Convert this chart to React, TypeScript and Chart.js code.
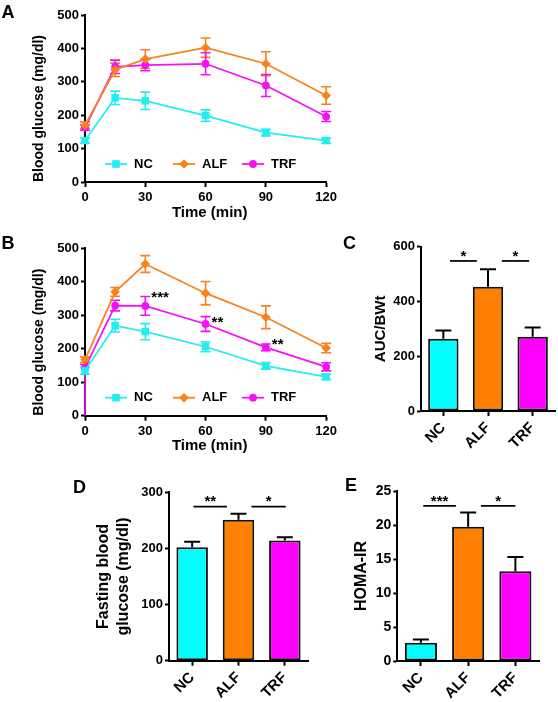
import React, { useEffect, useRef } from 'react';
import { Chart, registerables } from 'chart.js';

Chart.register(...registerables);

const FONT = "'Liberation Sans', Arial, Helvetica, sans-serif";
Chart.defaults.font.family = FONT;
Chart.defaults.font.weight = 'bold';
Chart.defaults.color = '#000';

// ---------- data ----------
const TIMES = [0, 15, 30, 60, 90, 120];

const A_NC = [124, 252, 243, 199, 148, 124];
const A_NC_ERR = [8, 20, 26, 17, 10, 8];
const A_ALF = [170, 336, 368, 402, 354, 259];
const A_ALF_ERR = [10, 20, 28, 29, 36, 26];
const A_TRF = [163, 345, 350, 354, 289, 196];
const A_TRF_ERR = [8, 20, 17, 33, 33, 15];

const B_NC = [134, 269, 251, 206, 149, 116];
const B_NC_ERR = [10, 19, 24, 15, 10, 8];
const B_ALF = [167, 370, 453, 366, 294, 202];
const B_ALF_ERR = [8, 13, 25, 35, 34, 14];
const B_TRF = [143, 329, 328, 274, 204, 146];
const B_TRF_ERR = [10, 16, 28, 22, 10, 12];
const B_TRF_ERR_LOW = [143, 16, 28, 22, 10, 12];
const B_STAR_TIMES = [30, 60, 90];
const B_STAR_VALUES = [366, 291, 224];
const B_STAR_LABELS = ['***', '**', '**'];

const GROUPS = ['NC', 'ALF', 'TRF'];
const SERIES_NAMES = ['NC', 'ALF', 'TRF'];

const C_VALUES = [264, 454, 271];
const C_ERR = [30, 64, 34];
const C_SIG_FROM = [0.15, 1.31];
const C_SIG_TO = [0.75, 1.92];
const C_SIG_Y = [548, 548];
const C_SIG_LABELS = ['*', '*'];

const D_VALUES = [202, 251, 214];
const D_ERR = [10, 11, 6];
const D_SIG_FROM = [0.03, 1.28];
const D_SIG_TO = [0.75, 2.02];
const D_SIG_Y = [274.5, 274.5];
const D_SIG_LABELS = ['**', '*'];

const E_VALUES = [2.7, 19.75, 13.2];
const E_ERR = [0.45, 2.1, 2.1];
const E_SIG_FROM = [0.05, 1.27];
const E_SIG_TO = [0.74, 2.0];
const E_SIG_Y = [22.8, 22.8];
const E_SIG_LABELS = ['***', '*'];

// ---------- styles ----------
const CYAN = '#00FFFF';
const ORANGE = '#FF8000';
const MAGENTA = '#FF00FF';
const LINE_CYAN = '#22EEF0';
const LINE_ORANGE = '#F9821A';
const LINE_MAGENTA = '#F510F5';

function drawMarker(ctx: CanvasRenderingContext2D, style: string, x: number, y: number, color: string) {
  ctx.save();
  ctx.fillStyle = color;
  ctx.beginPath();
  if (style === 'rect') {
    ctx.rect(x - 3.8, y - 3.8, 7.6, 7.6);
  } else if (style === 'rectRot') {
    ctx.moveTo(x, y - 4.8);
    ctx.lineTo(x + 4.8, y);
    ctx.lineTo(x, y + 4.8);
    ctx.lineTo(x - 4.8, y);
    ctx.closePath();
  } else {
    ctx.arc(x, y, 3.9, 0, Math.PI * 2);
  }
  ctx.fill();
  ctx.restore();
}

function drawErrors(chart: any, isLine: boolean) {
  const ctx = chart.ctx;
  const ys = chart.scales.y;
  chart.data.datasets.forEach((ds: any, i: number) => {
    const hi = ds.errHigh;
    if (!hi) return;
    const lo = ds.errLow || hi;
    const meta = chart.getDatasetMeta(i);
    meta.data.forEach((el: any, j: number) => {
      const raw = ds.data[j];
      const val = typeof raw === 'number' ? raw : raw.y;
      const x = el.x;
      const yTop = ys.getPixelForValue(val + hi[j]);
      const yBot = isLine ? ys.getPixelForValue(val - lo[j]) : el.y;
      const cap = isLine ? 5 : 8;
      ctx.save();
      ctx.strokeStyle = isLine ? ds.borderColor : '#000';
      ctx.lineWidth = isLine ? 1.6 : 2;
      ctx.beginPath();
      ctx.moveTo(x, yTop);
      ctx.lineTo(x, yBot);
      ctx.moveTo(x - cap, yTop);
      ctx.lineTo(x + cap, yTop);
      if (isLine && lo[j] < val) {
        ctx.moveTo(x - cap, yBot);
        ctx.lineTo(x + cap, yBot);
      }
      ctx.stroke();
      ctx.restore();
    });
  });
}

const errorBarPlugin = {
  id: 'errorBars',
  beforeDatasetsDraw(chart: any) {
    if (chart.config.type === 'line') drawErrors(chart, true);
  },
  afterDatasetsDraw(chart: any) {
    if (chart.config.type === 'bar') drawErrors(chart, false);
  },
};

const innerLegendPlugin = {
  id: 'innerLegend',
  afterDraw(chart: any) {
    if (chart.config.type !== 'line') return;
    const { ctx, chartArea } = chart;
    const y = chartArea.bottom - 18;
    const offs = [20, 88, 157];
    chart.data.datasets.forEach((ds: any, i: number) => {
      const x0 = chartArea.left + offs[i];
      ctx.save();
      ctx.strokeStyle = ds.borderColor;
      ctx.lineWidth = 1.75;
      ctx.beginPath();
      ctx.moveTo(x0, y);
      ctx.lineTo(x0 + 22, y);
      ctx.stroke();
      drawMarker(ctx, ds.pointStyle, x0 + 11, y, ds.borderColor);
      ctx.fillStyle = '#000';
      ctx.font = `bold 13px ${FONT}`;
      ctx.textBaseline = 'middle';
      ctx.textAlign = 'left';
      ctx.fillText(ds.label, x0 + 29, y);
      ctx.restore();
    });
  },
};

const starsPlugin = {
  id: 'stars',
  afterDatasetsDraw(chart: any, _args: any, opts: any) {
    if (!opts || !opts.times) return;
    const { ctx } = chart;
    const xs = chart.scales.x;
    const ys = chart.scales.y;
    ctx.save();
    ctx.fillStyle = '#000';
    ctx.font = `bold 15px ${FONT}`;
    ctx.textAlign = 'left';
    ctx.textBaseline = 'alphabetic';
    opts.times.forEach((t: number, i: number) => {
      ctx.fillText(opts.labels[i], xs.getPixelForValue(t) + 6, ys.getPixelForValue(opts.values[i]) + 8.7);
    });
    ctx.restore();
  },
};

const sigPlugin = {
  id: 'sig',
  afterDatasetsDraw(chart: any, _args: any, opts: any) {
    if (!opts || !opts.from) return;
    const { ctx } = chart;
    const xs = chart.scales.x;
    const ys = chart.scales.y;
    ctx.save();
    opts.from.forEach((f: number, i: number) => {
      const x1 = xs.getPixelForValue(f);
      const x2 = xs.getPixelForValue(opts.to[i]);
      const y = ys.getPixelForValue(opts.y[i]);
      ctx.strokeStyle = '#000';
      ctx.lineWidth = 1.75;
      ctx.beginPath();
      ctx.moveTo(x1, y);
      ctx.lineTo(x2, y);
      ctx.stroke();
      ctx.fillStyle = '#000';
      ctx.font = `bold 15px ${FONT}`;
      ctx.textAlign = 'center';
      ctx.textBaseline = 'alphabetic';
      ctx.fillText(opts.labels[i], (x1 + x2) / 2, y - 9 + 8.7);
    });
    ctx.restore();
  },
};

Chart.register(errorBarPlugin, innerLegendPlugin, starsPlugin, sigPlugin);

const axisGrid = {
  drawOnChartArea: false,
  drawTicks: true,
  tickLength: 5,
  tickWidth: 2,
  tickColor: '#000',
};
const axisBorder = { display: true, color: '#000', width: 2 };

function lineDataset(label: string, values: number[], err: number[], color: string, style: string, radius: number, errLow?: number[]) {
  return {
    label,
    data: TIMES.map((t, i) => ({ x: t, y: values[i] })),
    borderColor: color,
    backgroundColor: color,
    pointBackgroundColor: color,
    pointBorderColor: color,
    pointBorderWidth: 0,
    pointStyle: style,
    pointRadius: radius,
    borderWidth: 1.75,
    tension: 0,
    clip: false,
    errHigh: err,
    errLow: errLow,
  } as any;
}

function lineConfig(datasets: any[], padTop: number, xHeight: number, titleBottom: number, stars?: any) {
  return {
    type: 'line',
    data: { datasets },
    options: {
      responsive: false,
      animation: false,
      events: [],
      layout: { padding: { top: padTop, right: 13, left: 0, bottom: 0 } },
      plugins: {
        legend: { display: false },
        tooltip: { enabled: false },
        stars: stars || {},
      },
      scales: {
        x: {
          type: 'linear',
          min: 0,
          max: 120,
          ticks: { stepSize: 30, font: { size: 13, weight: 'bold' }, color: '#000', padding: 3 },
          grid: axisGrid,
          border: axisBorder,
          title: { display: true, text: '  Time (min)', font: { size: 15, weight: 'bold' }, color: '#000', padding: { top: 0, bottom: titleBottom } },
          afterFit: (s: any) => { s.height = xHeight; },
        },
        y: {
          min: 0,
          max: 500,
          ticks: { stepSize: 100, font: { size: 13, weight: 'bold' }, color: '#000', padding: 2 },
          grid: { ...axisGrid, tickLength: 4 },
          border: axisBorder,
          title: { display: true, text: 'Blood glucose (mg/dl)', align: 'start', font: { size: 14, weight: 'bold' }, color: '#000', padding: { top: 31, bottom: 0 } },
          afterFit: (s: any) => { s.width = 85; },
        },
      },
    },
  } as any;
}

function barConfig(values: number[], err: number[], yMax: number, step: number, title: any, titleSize: number, titlePad: number, tickSize: number, yWidth: number, xHeight: number, padTop: number, padRight: number, sig: any) {
  return {
    type: 'bar',
    data: {
      labels: GROUPS,
      datasets: [
        {
          data: values,
          backgroundColor: [CYAN, ORANGE, MAGENTA],
          borderColor: '#111',
          borderWidth: 2,
          borderSkipped: false,
          barPercentage: 0.68,
          categoryPercentage: 1,
          errHigh: err,
        } as any,
      ],
    },
    options: {
      responsive: false,
      animation: false,
      events: [],
      layout: { padding: { top: padTop, right: padRight, left: 0, bottom: 0 } },
      plugins: { legend: { display: false }, tooltip: { enabled: false }, sig },
      scales: {
        x: {
          type: 'category',
          offset: true,
          ticks: { font: { size: 15, weight: 'bold' }, color: '#000', maxRotation: 45, minRotation: 45, padding: 3 },
          grid: { ...axisGrid, offset: false },
          border: axisBorder,
          afterFit: (s: any) => { s.height = xHeight; },
        },
        y: {
          min: 0,
          max: yMax,
          ticks: { stepSize: step, font: { size: tickSize, weight: 'bold' }, color: '#000', padding: 2 },
          grid: { ...axisGrid, tickLength: 4 },
          border: axisBorder,
          title: { display: true, text: title, font: { size: titleSize, weight: 'bold', lineHeight: 1.25 }, color: '#000', padding: { top: titlePad, bottom: 0 } },
          afterFit: (s: any) => { s.width = yWidth; },
        },
      },
    },
  } as any;
}

function ChartBox({ left, top, width, height, make }: { left: number; top: number; width: number; height: number; make: () => any }) {
  const ref = useRef<HTMLCanvasElement>(null);
  useEffect(() => {
    const chart = new Chart(ref.current as HTMLCanvasElement, make());
    return () => chart.destroy();
  }, []);
  return <canvas ref={ref} width={width} height={height} style={{ position: 'absolute', left, top, width, height }} />;
}

function Letter({ text, left, top }: { text: string; left: number; top: number }) {
  return (
    <div style={{ position: 'absolute', left, top, font: `bold 18px ${FONT}`, lineHeight: '18px', color: '#000' }}>{text}</div>
  );
}

export default function App() {
  return (
    <div style={{ position: 'absolute', left: 0, top: 0, width: 558, height: 702, background: '#fff', overflow: 'hidden' }}>
      <ChartBox
        left={0}
        top={0}
        width={340}
        height={230}
        make={() =>
          lineConfig(
            [
              lineDataset(SERIES_NAMES[0], A_NC, A_NC_ERR, LINE_CYAN, 'rect', 5.3),
              lineDataset(SERIES_NAMES[1], A_ALF, A_ALF_ERR, LINE_ORANGE, 'rectRot', 4.8),
              lineDataset(SERIES_NAMES[2], A_TRF, A_TRF_ERR, LINE_MAGENTA, 'circle', 3.9),
            ],
            15,
            48,
            8
          )
        }
      />
      <ChartBox
        left={0}
        top={230}
        width={340}
        height={230}
        make={() =>
          lineConfig(
            [
              lineDataset(SERIES_NAMES[0], B_NC, B_NC_ERR, LINE_CYAN, 'rect', 5.3),
              lineDataset(SERIES_NAMES[1], B_ALF, B_ALF_ERR, LINE_ORANGE, 'rectRot', 4.8),
              lineDataset(SERIES_NAMES[2], B_TRF, B_TRF_ERR, LINE_MAGENTA, 'circle', 3.9, B_TRF_ERR_LOW),
            ],
            18.3,
            44.3,
            5,
            { times: B_STAR_TIMES, values: B_STAR_VALUES, labels: B_STAR_LABELS }
          )
        }
      />
      <ChartBox
        left={340}
        top={230}
        width={218}
        height={230}
        make={() =>
          barConfig(C_VALUES, C_ERR, 600, 200, 'AUC/BWt', 15, 31, 13, 81, 49, 16.7, 3, {
            from: C_SIG_FROM, to: C_SIG_TO, y: C_SIG_Y, labels: C_SIG_LABELS,
          })
        }
      />
      <ChartBox
        left={0}
        top={460}
        width={320}
        height={242}
        make={() =>
          barConfig(D_VALUES, D_ERR, 300, 100, ['Fasting blood', 'glucose (mg/dl)'], 16, 93.3, 13, 169, 41.3, 32.3, 12, {
            from: D_SIG_FROM, to: D_SIG_TO, y: D_SIG_Y, labels: D_SIG_LABELS,
          })
        }
      />
      <ChartBox
        left={300}
        top={460}
        width={258}
        height={242}
        make={() =>
          barConfig(E_VALUES, E_ERR, 25, 5, 'HOMA-IR', 16, 51.7, 14, 97.3, 41, 31, 19, {
            from: E_SIG_FROM, to: E_SIG_TO, y: E_SIG_Y, labels: E_SIG_LABELS,
          })
        }
      />
      <Letter text="A" left={1.5} top={2.7} />
      <Letter text="B" left={1.5} top={233.7} />
      <Letter text="C" left={343} top={233.7} />
      <Letter text="D" left={73} top={477.7} />
      <Letter text="E" left={345} top={476} />
    </div>
  );
}
